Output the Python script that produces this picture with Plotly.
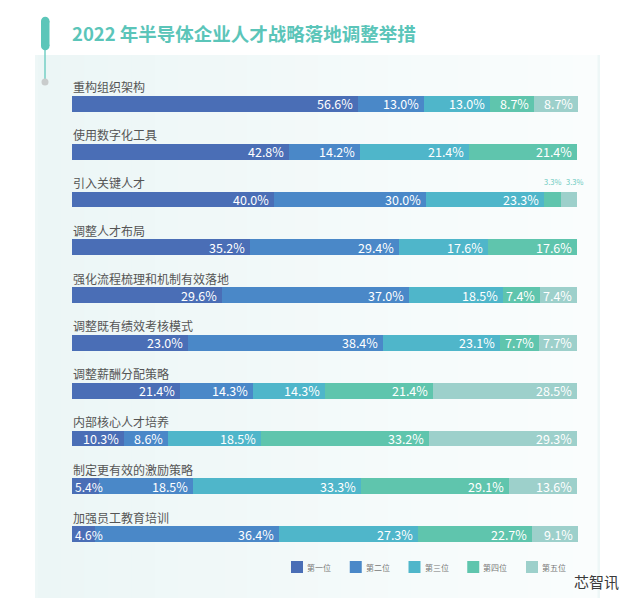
import plotly.graph_objects as go

# ---------------- data ----------------
categories = ["重构组织架构", "使用数字化工具", "引入关键人才", "调整人才布局",
              "强化流程梳理和机制有效落地", "调整既有绩效考核模式", "调整薪酬分配策略",
              "内部核心人才培养", "制定更有效的激励策略", "加强员工教育培训"]
rank_names = ["第一位", "第二位", "第三位", "第四位", "第五位"]
first = [56.6, 42.8, 40.0, 35.2, 29.6, 23.0, 21.4, 10.3, 5.4, 4.6]
second = [13.0, 14.2, 30.0, 29.4, 37.0, 38.4, 14.3, 8.6, 18.5, 36.4]
third = [13.0, 21.4, 23.3, 17.6, 18.5, 23.1, 14.3, 18.5, 33.3, 27.3]
fourth = [8.7, 21.4, 3.3, 17.6, 7.4, 7.7, 21.4, 33.2, 29.1, 22.7]
fifth = [8.7, 0.0, 3.3, 0.0, 7.4, 7.7, 28.5, 29.3, 13.6, 9.1]
title_text = "2022 年半导体企业人才战略落地调整举措"
watermark = "芯智讯"

series = [first, second, third, fourth, fifth]
colors = ["#4a6eb6", "#4a88c8", "#4fb6ca", "#5fc5ad", "#9dd0cb"]

# ---------------- geometry ----------------
# the page body adds an 8px offset; coordinates below are window pixels
OFF = 8
W, H = 640 - OFF, 608 - OFF
L = 72 - OFF
T = 80 - OFF
PW = 506
PH = 478
R = W - L - PW
B = H - T - PH
FONT = "Noto Sans CJK SC"
XMAX = 100


def fx(px):
    return (px - OFF - L) / PW


def fy(py):
    return 1 - (py - OFF - T) / PH


ys = list(range(len(categories)))

fig = go.Figure()
for name, vals, col in zip(rank_names, series, colors):
    fig.add_trace(go.Bar(
        orientation="h", x=vals, y=ys, name=name, width=0.33,
        marker=dict(color=col, line=dict(width=0)),
        hoverinfo="skip", showlegend=False,
    ))

annotations = []
# category labels above bars
for i, cat in enumerate(categories):
    annotations.append(dict(
        x=0, y=i, xref="x", yref="y", text=cat, showarrow=False,
        xanchor="left", yanchor="middle", yshift=17, xshift=-1,
        font=dict(family=FONT, size=12, color="#555555"),
    ))

# value labels
small_shift = [0, 0, 0, 0, 5]
for i in ys:
    cum = 0.0
    for k, vals in enumerate(series):
        v = vals[i]
        cum += v
        if v <= 0:
            continue
        end = min(cum, XMAX)
        txt = f"{v:.1f}%"
        if v >= 4:
            seg_px = v / XMAX * PW
            if seg_px < 30:
                annotations.append(dict(
                    x=cum - v, y=i, xref="x", yref="y", text=txt, showarrow=False,
                    xanchor="left", yanchor="middle", xshift=1,
                    font=dict(family=FONT, size=12, color="white"),
                ))
            else:
                annotations.append(dict(
                    x=end, y=i, xref="x", yref="y", text=txt, showarrow=False,
                    xanchor="right", yanchor="middle", xshift=-3,
                    font=dict(family=FONT, size=12.5, color="white"),
                ))
        else:
            annotations.append(dict(
                x=end - v / 2, y=i, xref="x", yref="y", text=txt, showarrow=False,
                xanchor="center", yanchor="middle", yshift=18, xshift=small_shift[k],
                font=dict(family=FONT, size=7.5, color="#6ccac0"),
            ))

# title
annotations.append(dict(
    x=fx(70), y=fy(33), xref="paper", yref="paper", text=title_text, showarrow=False,
    xanchor="left", yanchor="middle",
    font=dict(family=FONT, size=18.5, color="#5bc5b9", weight="bold"),
))
# watermark
annotations.append(dict(
    x=fx(621), y=fy(581), xref="paper", yref="paper", text=watermark, showarrow=False,
    xanchor="right", yanchor="middle",
    font=dict(family=FONT, size=15, color="#3a3a3a"),
))

shapes = []
# panel background (base + horizontal gradient strips)
x0p, x1p, y0p, y1p = 35, 600, 55, 598
shapes.append(dict(
    type="rect", xref="paper", yref="paper", layer="below",
    x0=fx(x0p), x1=fx(x1p), y0=fy(y1p), y1=fy(y0p),
    fillcolor="#eef7f7", line=dict(width=0),
))
n = 24
c0 = (236, 246, 246)
c1 = (250, 253, 253)
step = (x1p - x0p - 6) / n
for k in range(n):
    t = k / (n - 1)
    c = tuple(int(round(a + (b - a) * t)) for a, b in zip(c0, c1))
    shapes.append(dict(
        type="rect", xref="paper", yref="paper", layer="below",
        x0=fx(x0p + 3 + k * step), x1=fx(x0p + 3 + (k + 1) * step + 0.5),
        y0=fy(y1p), y1=fy(y0p),
        fillcolor=f"rgb{c}", line=dict(width=0),
    ))

# decoration: teal pill, thin line, grey dot
shapes.append(dict(type="line", xref="paper", yref="paper",
                   x0=fx(45), x1=fx(45), y0=fy(50), y1=fy(80),
                   line=dict(color="#74cfc4", width=1.5)))
shapes.append(dict(type="rect", xref="paper", yref="paper",
                   x0=fx(41), x1=fx(49.5), y0=fy(46), y1=fy(21),
                   fillcolor="#5cc6b9", line=dict(width=0)))
shapes.append(dict(type="circle", xref="paper", yref="paper",
                   x0=fx(41), x1=fx(49.5), y0=fy(25.25), y1=fy(16.75),
                   fillcolor="#5cc6b9", line=dict(width=0)))
shapes.append(dict(type="circle", xref="paper", yref="paper",
                   x0=fx(41), x1=fx(49.5), y0=fy(50.25), y1=fy(41.75),
                   fillcolor="#5cc6b9", line=dict(width=0)))
shapes.append(dict(type="circle", xref="paper", yref="paper",
                   x0=fx(41.5), x1=fx(48.5), y0=fy(85.5), y1=fy(78.5),
                   fillcolor="#c9cccc", line=dict(width=0)))

# legend (swatch + label per rank)
leg_x0, leg_step, leg_y = 297, 58.75, 567
for k, (name, col) in enumerate(zip(rank_names, colors)):
    cx = leg_x0 + k * leg_step
    shapes.append(dict(type="rect", xref="paper", yref="paper",
                       x0=fx(cx - 6), x1=fx(cx + 6), y0=fy(leg_y + 6), y1=fy(leg_y - 6),
                       fillcolor=col, line=dict(width=0)))
    annotations.append(dict(
        x=fx(cx + 8), y=fy(leg_y), xref="paper", yref="paper", text=name,
        showarrow=False, xanchor="left", yanchor="middle",
        font=dict(family=FONT, size=8, color="#777777"),
    ))

fig.update_layout(
    width=W, height=H,
    margin=dict(l=L, r=R, t=T, b=B),
    barmode="stack",
    paper_bgcolor="white",
    plot_bgcolor="rgba(0,0,0,0)",
    font=dict(family=FONT),
    xaxis=dict(range=[0, XMAX], visible=False, fixedrange=True),
    yaxis=dict(range=[len(categories) - 0.5, -0.5], visible=False, fixedrange=True),
    showlegend=False,
    annotations=annotations,
    shapes=shapes,
)

fig.write_html("out.html")
